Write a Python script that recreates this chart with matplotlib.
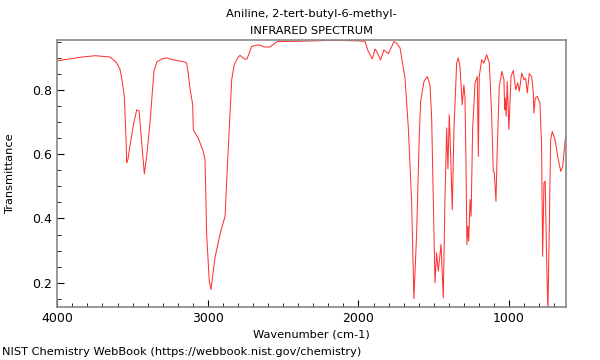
import matplotlib
matplotlib.use("Agg")
import matplotlib.pyplot as plt
from matplotlib.ticker import MultipleLocator

# wavenumber (cm-1) and transmittance
wavenumber = [
    4000, 3850, 3750, 3650, 3606, 3584, 3570, 3555, 3543, 3539, 3531, 3520,
    3495, 3473, 3457, 3440, 3422, 3405, 3384, 3358, 3338, 3300, 3274, 3240,
    3207, 3160, 3141, 3130, 3119, 3101, 3097, 3064, 3031, 3019, 3008, 2991,
    2979, 2970, 2953, 2920, 2886, 2871, 2842, 2825, 2800, 2787, 2765, 2754,
    2740, 2709, 2665, 2621, 2588, 2554, 2535, 2400, 2250, 2150, 2000, 1957,
    1935, 1908, 1890, 1879, 1853, 1831, 1802, 1764, 1745, 1724, 1691, 1669,
    1647, 1632, 1614, 1596, 1587, 1565, 1543, 1525, 1514, 1503, 1492, 1481,
    1470, 1452, 1437, 1426, 1414, 1406, 1397, 1388, 1377, 1366, 1348, 1337,
    1326, 1311, 1300, 1293, 1286, 1280, 1273, 1268, 1259, 1252, 1242, 1226,
    1211, 1204, 1198, 1182, 1167, 1149, 1131, 1116, 1105, 1098, 1087, 1078,
    1065, 1047, 1034, 1029, 1025, 1019, 1012, 1001, 987, 972, 956, 943,
    932, 916, 901, 890, 879, 866, 850, 839, 835, 826, 813, 795,
    784, 777, 768, 760, 750, 742, 733, 724, 713, 695, 673, 657,
    644, 629, 622,
]
transmittance = [
    0.891, 0.902, 0.907, 0.903, 0.885, 0.865, 0.830, 0.780, 0.640, 0.573, 0.583, 0.620,
    0.690, 0.738, 0.735, 0.640, 0.539, 0.600, 0.700, 0.860, 0.888, 0.898, 0.900, 0.895,
    0.892, 0.888, 0.884, 0.850, 0.806, 0.754, 0.676, 0.650, 0.609, 0.583, 0.350, 0.205,
    0.179, 0.215, 0.277, 0.350, 0.407, 0.557, 0.832, 0.879, 0.902, 0.908, 0.900, 0.896,
    0.897, 0.936, 0.941, 0.934, 0.934, 0.946, 0.951, 0.952, 0.954, 0.955, 0.953, 0.952,
    0.920, 0.897, 0.928, 0.920, 0.894, 0.925, 0.913, 0.951, 0.945, 0.931, 0.837, 0.683,
    0.453, 0.150, 0.350, 0.661, 0.765, 0.827, 0.842, 0.816, 0.713, 0.453, 0.200, 0.293,
    0.236, 0.319, 0.153, 0.453, 0.682, 0.555, 0.723, 0.600, 0.427, 0.677, 0.884, 0.900,
    0.873, 0.754, 0.816, 0.780, 0.574, 0.319, 0.376, 0.329, 0.459, 0.407, 0.677, 0.822,
    0.842, 0.593, 0.842, 0.894, 0.884, 0.910, 0.884, 0.728, 0.547, 0.543, 0.453, 0.625,
    0.811, 0.858, 0.832, 0.739, 0.775, 0.718, 0.827, 0.677, 0.842, 0.861, 0.801, 0.822,
    0.796, 0.853, 0.832, 0.837, 0.791, 0.851, 0.842, 0.791, 0.728, 0.775, 0.780, 0.760,
    0.625, 0.282, 0.512, 0.516, 0.262, 0.110, 0.365, 0.645, 0.671, 0.645, 0.583, 0.547,
    0.562, 0.635, 0.660,
]

fig = plt.figure(figsize=(6, 3.6), dpi=100)
ax = fig.add_axes([0.0955, 0.147, 0.8473, 0.742])
ax.plot(wavenumber, transmittance, color="#ff0000", lw=0.75, alpha=0.8)

ax.set_xlim(4000, 624)
ax.set_ylim(0.124, 0.956)
ax.xaxis.set_major_locator(MultipleLocator(1000))
ax.xaxis.set_minor_locator(MultipleLocator(100))
ax.yaxis.set_major_locator(MultipleLocator(0.2))
ax.yaxis.set_minor_locator(MultipleLocator(0.05))
ax.tick_params(which="both", direction="in", top=False, right=False, labelsize=9)
ax.tick_params(which="major", length=5)
ax.tick_params(which="minor", length=3)
for s in ax.spines.values():
    s.set_color("#888888")
    s.set_linewidth(1.2)

ax.set_xlabel("Wavenumber (cm-1)", fontsize=8.2, labelpad=3)
ax.set_ylabel("Transmittance", fontsize=8.2)
ax.yaxis.set_label_coords(-0.083, 0.5)
fig.text(0.519, 0.962, "Aniline, 2-tert-butyl-6-methyl-", ha="center", va="center", fontsize=8.2)
fig.text(0.519, 0.915, "INFRARED SPECTRUM", ha="center", va="center", fontsize=8.2)
fig.text(0.003, 0.022, "NIST Chemistry WebBook (https://webbook.nist.gov/chemistry)",
         ha="left", va="center", fontsize=8.2)

fig.savefig("out.png", dpi=100)
